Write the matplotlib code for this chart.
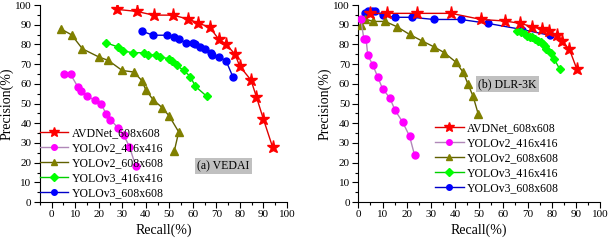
import matplotlib
matplotlib.use("Agg")
import matplotlib.pyplot as plt
from matplotlib.ticker import MultipleLocator

plt.rcParams['font.family'] = ['Liberation Serif', 'DejaVu Serif']

labels = ["AVDNet_608x608", "YOLOv2_416x416", "YOLOv2_608x608", "YOLOv3_416x416", "YOLOv3_608x608"]

# (a) VEDAI
a_avd_r = [27.9, 36.1, 43.3, 51.4, 58.1, 62.1, 67.1, 71.0, 74.0, 77.9, 79.9, 84.7, 87.0, 90.0, 93.9]
a_avd_p = [97.8, 96.8, 94.9, 94.9, 92.9, 90.9, 88.8, 82.7, 80.2, 75.1, 69.0, 61.9, 53.4, 42.0, 27.8]
a_v2s_r = [5.1, 8.1, 11.1, 12.3, 15.1, 18.3, 21.1, 23.1, 25.0, 28.1, 30.7, 33.1, 35.7]
a_v2s_p = [64.8, 64.8, 58.6, 56.6, 53.8, 51.7, 49.8, 44.9, 41.9, 37.8, 33.9, 28.0, 18.5]
a_v2l_r = [3.8, 8.5, 13.1, 20.0, 24.1, 30.0, 35.0, 38.3, 40.1, 43.1, 47.1, 50.0, 54.0, 52.1]
a_v2l_p = [88.0, 84.9, 77.8, 73.7, 71.9, 66.8, 66.0, 61.7, 56.8, 52.0, 47.8, 43.6, 35.6, 25.8]
a_v3s_r = [23.3, 28.1, 30.3, 34.4, 39.3, 41.0, 44.3, 46.1, 50.0, 51.3, 53.1, 56.1, 59.0, 61.0, 66.0]
a_v3s_p = [80.8, 78.8, 76.8, 75.8, 75.8, 74.7, 74.7, 73.7, 72.7, 71.5, 69.5, 66.8, 63.7, 58.8, 53.6]
a_v3l_r = [38.3, 43.1, 49.0, 52.1, 54.0, 57.0, 60.1, 61.0, 62.9, 65.0, 67.6, 68.0, 71.0, 74.1, 77.0]
a_v3l_p = [86.8, 84.7, 84.7, 83.9, 82.9, 80.8, 80.8, 80.0, 78.8, 77.8, 75.8, 74.7, 73.7, 71.7, 63.6]

# (b) DLR-3K
b_avd_r = [4.9, 12.0, 24.2, 38.4, 50.8, 60.8, 67.0, 72.0, 76.0, 79.0, 82.0, 84.1, 87.3, 90.3]
b_avd_p = [95.8, 95.8, 95.8, 95.8, 92.7, 91.9, 90.7, 89.0, 87.8, 86.9, 84.7, 81.7, 77.6, 67.8]
b_v2s_r = [1.0, 2.3, 3.2, 3.9, 6.0, 8.0, 10.0, 13.0, 15.2, 18.3, 21.2, 23.3]
b_v2s_p = [92.9, 82.9, 82.9, 74.6, 69.5, 63.6, 57.6, 52.9, 46.6, 40.7, 33.4, 23.7]
b_v2l_r = [1.0, 2.8, 6.2, 11.1, 16.0, 21.2, 26.2, 31.3, 35.5, 40.4, 43.4, 45.4, 47.5, 49.6]
b_v2l_p = [89.8, 92.9, 91.7, 91.7, 89.0, 85.1, 81.9, 78.8, 75.9, 71.0, 65.8, 59.8, 53.6, 44.7]
b_v3s_r = [65.6, 67.3, 68.8, 69.9, 71.0, 72.0, 73.1, 74.2, 75.5, 76.5, 77.1, 77.8, 79.6, 81.0, 83.3]
b_v3s_p = [86.8, 86.1, 85.1, 84.4, 83.7, 83.7, 82.7, 82.0, 81.2, 80.3, 79.3, 77.8, 75.8, 72.7, 67.5]
b_v3l_r = [2.8, 4.1, 5.5, 6.9, 10.0, 15.2, 22.2, 31.2, 42.4, 53.6, 67.7, 79.1]
b_v3l_p = [95.8, 96.8, 96.8, 96.8, 94.8, 93.8, 93.8, 92.7, 92.7, 90.7, 87.6, 84.7]

fig = plt.figure(figsize=(6.12, 2.42), dpi=100)
axA = fig.add_axes([0.065, 0.165, 0.404, 0.814])
axB = fig.add_axes([0.5855, 0.165, 0.395, 0.814])

styles = [
    dict(color='#e00000', marker='*', mfc='#ff0000', mec='#ff0000', ms=9.5, lw=1.0),
    dict(color='#b088b8', marker='o', mfc='#ff00ff', mec='#ff00ff', ms=5, lw=1.0),
    dict(color='#606000', marker='^', mfc='#808000', mec='#808000', ms=5.5, lw=1.0),
    dict(color='#00d000', marker='D', mfc='#00ff00', mec='#00ff00', ms=4.5, lw=1.0),
    dict(color='#0000c8', marker='o', mfc='#0000ff', mec='#0000ff', ms=5, lw=1.0),
]

dataA = [(a_avd_r, a_avd_p), (a_v2s_r, a_v2s_p), (a_v2l_r, a_v2l_p), (a_v3s_r, a_v3s_p), (a_v3l_r, a_v3l_p)]
dataB = [(b_avd_r, b_avd_p), (b_v2s_r, b_v2s_p), (b_v2l_r, b_v2l_p), (b_v3s_r, b_v3s_p), (b_v3l_r, b_v3l_p)]

def setup(ax, data, xlim, tag, tagpos, legpos):
    handles = [None] * 5
    for i in [4, 3, 2, 1, 0]:
        r, p = data[i]
        h, = ax.plot(r, p, label=labels[i], zorder=4 if i == 0 else 3, **styles[i])
        handles[i] = h
    ax.set_xlim(*xlim)
    ax.set_ylim(0, 100)
    ax.xaxis.set_major_locator(MultipleLocator(10))
    ax.xaxis.set_minor_locator(MultipleLocator(5))
    ax.yaxis.set_major_locator(MultipleLocator(10))
    ax.yaxis.set_minor_locator(MultipleLocator(5))
    for s in ['top', 'right']:
        ax.spines[s].set_visible(False)
    ax.tick_params(which='major', direction='out', length=4, width=0.8, labelsize=8, pad=2)
    ax.tick_params(which='minor', direction='out', length=2, width=0.8)
    ax.set_xlabel('Recall(%)', fontsize=10, labelpad=3)
    ax.set_ylabel('Precision(%)', fontsize=10, labelpad=1)
    ax.text(tagpos[0], tagpos[1], tag, fontsize=8.5, ha='center', va='center',
            bbox=dict(boxstyle='square,pad=0.2', fc='#c0c0c0', ec='none'), zorder=2)
    ax.legend(handles=handles, loc='lower left', bbox_to_anchor=legpos, frameon=False,
              fontsize=8.5, handlelength=2.4, handletextpad=0.3, labelspacing=0.25,
              borderaxespad=0, borderpad=0, markerscale=0.8)

setup(axA, dataA, (-5, 100), '(a) VEDAI', (73, 18.3), (0.0, 0.015))
setup(axB, dataB, (0, 100), '(b) DLR-3K', (61.7, 60), (0.318, 0.04))

fig.savefig('out.png', dpi=100)
